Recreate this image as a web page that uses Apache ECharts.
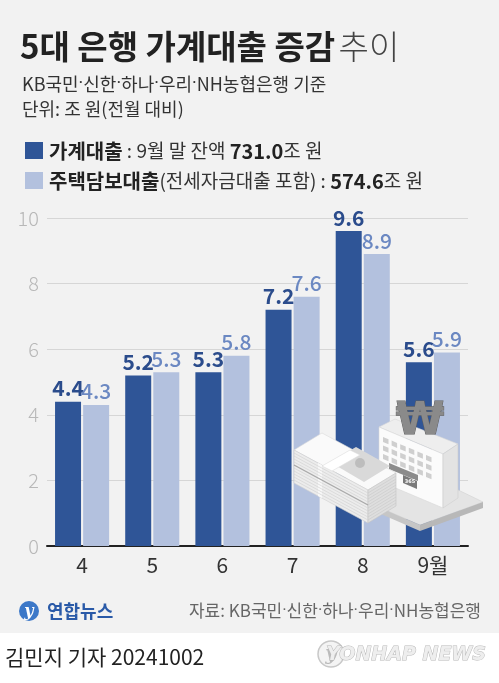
<!DOCTYPE html>
<html><head><meta charset="utf-8">
<script src="https://cdn.jsdelivr.net/npm/echarts@6/dist/echarts.min.js"></script>
<style>html,body{margin:0;padding:0;background:#fff}#c{width:499px;height:683px}</style>
</head><body><div id="c"></div>
<script>
var categories = ['4', '5', '6', '7', '8', '9월'];
var householdLoans = [4.4, 5.2, 5.3, 7.2, 9.6, 5.6];
var mortgageLoans = [4.3, 5.3, 5.8, 7.6, 8.9, 5.9];
var yTicks = [0, 2, 4, 6, 8, 10];

var FONT = '"Noto Sans CJK KR","Noto Sans",sans-serif';
var DARK = '#2f5597', LIGHT = '#b3c1de';
var chart = echarts.init(document.getElementById('c'), null, {renderer: 'canvas'});

// narrow middle dots (Latin font) inside Korean text
function dots(s, style) {
  return s.split('·').map(function (p) { return '{' + style + '|' + p + '}'; }).join('{d|·}');
}

function poly(points, fill, stroke) {
  return {type: 'polygon', shape: {points: points}, style: {fill: fill, stroke: stroke || null, lineWidth: 0.6}, z: 10, silent: true};
}
function line(x1, y1, x2, y2, c, w) {
  return {type: 'line', shape: {x1: x1, y1: y1, x2: x2, y2: y2}, style: {stroke: c, lineWidth: w || 0.8}, z: 10, silent: true};
}
var illus = [
  // platform
  poly([[330,486],[392,458],[483,502],[420,525]], '#e4e4e4', '#d2d2d2'),
  poly([[330,486],[420,525],[420,531],[330,492]], '#c6c6c6'),
  poly([[420,525],[483,502],[483,508],[420,531]], '#b8b8b8'),
  // building
  poly([[379,427],[395,419],[458,444],[443,454]], '#eeeeee', '#d8d8d8'),
  poly([[379,427],[443,454],[443,508],[379,481]], '#fbfbfb', '#d8d8d8'),
  poly([[443,454],[458,444],[458,498],[443,508]], '#e3e3e3', '#cfcfcf')
];
for (var r = 0; r < 3; r++) {
  for (var c = 0; c < 6; c++) {
    var x0 = 383 + c * 8.6, y0 = 437 + c * 3.6 + r * 8.5;
    illus.push(poly([[x0, y0], [x0 + 5.5, y0 + 2.3], [x0 + 5.5, y0 + 7.3], [x0, y0 + 5]], '#cfcfcf'));
  }
}
illus = illus.concat([
  poly([[389,463],[418,475],[418,481],[389,469]], '#8c8c8c'),
  poly([[403,475],[417,481],[417,489],[403,483]], '#7a7a7a'),
  {type: 'text', style: {x: 410, y: 482, text: '365', fill: '#fff', font: 'bold 5px "DejaVu Sans"', align: 'center', verticalAlign: 'middle'}, z: 11, silent: true},
  {type: 'text', style: {x: 420, y: 423, text: '₩', fill: '#8a8a8a', stroke: '#5e5e5e', lineWidth: 1, font: 'bold 44px "DejaVu Sans"', align: 'center', verticalAlign: 'middle'}, z: 11, silent: true},
  // money stack
  poly([[294,450],[322,433],[396,473],[368,490]], '#fafafa', '#dadada'),
  poly([[294,450],[368,490],[368,523],[294,483]], '#ececec', '#cfcfcf'),
  poly([[368,490],[396,473],[396,506],[368,523]], '#dedede', '#c4c4c4'),
  poly([[330,462],[356,447],[390,466],[364,482]], '#d9d9d9'),
  {type: 'circle', shape: {cx: 360, cy: 463, r: 5}, style: {fill: '#bdbdbd'}, z: 10, silent: true},
  poly([[322,466],[350,450],[360,455],[332,471]], '#ffffff', '#dddddd'),
  poly([[318,463],[322,465],[322,498],[318,496]], '#f8f8f8')
]);
for (var k = 1; k <= 10; k++) {
  var dy = k * 3;
  illus.push(line(294, 450 + dy, 368, 490 + dy, k === 5 ? '#a9a9a9' : '#d2d2d2', k === 5 ? 1.4 : 0.7));
  illus.push(line(368, 490 + dy, 396, 473 + dy, '#c8c8c8', 0.6));
}

var option = {
  backgroundColor: '#ffffff',
  textStyle: {fontFamily: FONT},
  animation: false,
  grid: {left: 47, right: 31, top: 218, bottom: 137, containLabel: false},
  xAxis: {
    type: 'category', data: categories,
    axisLine: {lineStyle: {color: '#222', width: 2}},
    axisTick: {show: false},
    axisLabel: {color: '#333', fontSize: 21, margin: 9, fontFamily: FONT}
  },
  yAxis: {
    type: 'value', min: yTicks[0], max: yTicks[yTicks.length - 1], interval: 2,
    axisLine: {show: false}, axisTick: {show: false},
    splitLine: {lineStyle: {color: '#d6d6d6', width: 1}},
    axisLabel: {color: '#b8b8b8', fontSize: 20, fontWeight: 300, margin: 8, fontFamily: FONT}
  },
  series: [
    {type: 'bar', name: '가계대출', data: householdLoans, barWidth: 26, barGap: '8%',
     itemStyle: {color: DARK},
     label: {show: true, position: 'top', distance: 3, color: '#2b4c8c', fontSize: 21, fontWeight: 'bold', fontFamily: FONT, formatter: function(p){return p.value.toFixed(1);}}},
    {type: 'bar', name: '주택담보대출', data: mortgageLoans, barWidth: 26,
     itemStyle: {color: LIGHT},
     label: {show: true, position: 'top', distance: 3, color: '#6b88c2', fontSize: 21, fontWeight: 500, fontFamily: FONT, formatter: function(p){return p.value.toFixed(1);}}}
  ],
  graphic: [
    {type: 'rect', shape: {x: 0, y: 0, width: 499, height: 633}, style: {fill: '#f2f2f2'}, z: -10, silent: true},
    {type: 'text', style: {x: 20, y: 46, verticalAlign: 'middle',
      text: '{b|5대 은행 가계대출 증감} {l|추이}',
      rich: {b: {fontSize: 33, fontWeight: 'bold', fill: '#222', fontFamily: FONT},
             l: {fontSize: 33, fontWeight: 300, fill: '#444', fontFamily: FONT}}}},
    {type: 'text', style: {x: 22, y: 84, verticalAlign: 'middle', text: dots('KB국민·신한·하나·우리·NH농협은행 기준', 'n'),
      rich: {n: {fontSize: 18, fill: '#333', fontFamily: FONT}, d: {fontSize: 18, fill: '#333', fontFamily: 'Roboto'}}}},
    {type: 'text', style: {x: 22, y: 109, verticalAlign: 'middle', text: '단위: 조 원(전월 대비)', fontSize: 18, fill: '#333', fontFamily: FONT}},
    {type: 'rect', shape: {x: 25, y: 142, width: 18, height: 17}, style: {fill: DARK}},
    {type: 'text', style: {x: 49, y: 151, verticalAlign: 'middle',
      text: '{b|가계대출}{n| : 9월 말 잔액 }{b|731.0}{n|조 원}',
      rich: {b: {fontSize: 20, fontWeight: 'bold', fill: '#222', fontFamily: FONT},
             n: {fontSize: 19, fill: '#333', fontFamily: FONT}}}},
    {type: 'rect', shape: {x: 25, y: 172, width: 18, height: 17}, style: {fill: LIGHT}},
    {type: 'text', style: {x: 49, y: 181, verticalAlign: 'middle',
      text: '{b|주택담보대출}{n|(전세자금대출 포함) : }{b|574.6}{n|조 원}',
      rich: {b: {fontSize: 20, fontWeight: 'bold', fill: '#222', fontFamily: FONT},
             n: {fontSize: 19, fill: '#333', fontFamily: FONT}}}},
    // footer logo
    {type: 'circle', shape: {cx: 29, cy: 611, r: 10}, style: {fill: '#3c78c8'}},
    {type: 'text', style: {x: 29, y: 612, text: 'y', align: 'center', verticalAlign: 'middle', fill: '#fff', font: 'italic bold 16px "DejaVu Serif"'}},
    {type: 'text', style: {x: 47, y: 611, verticalAlign: 'middle', text: '연합뉴스', fontSize: 18, fontWeight: 'bold', fill: '#2a5aa8', fontFamily: FONT}},
    {type: 'text', style: {x: 481, y: 611, align: 'right', verticalAlign: 'middle', text: dots('자료: KB국민·신한·하나·우리·NH농협은행', 'n'),
      rich: {n: {fontSize: 17, fill: '#666', fontFamily: FONT}, d: {fontSize: 17, fill: '#666', fontFamily: 'Roboto'}}}},
    {type: 'text', style: {x: 5, y: 657, verticalAlign: 'middle', text: '김민지 기자 20241002', fontSize: 21, fill: '#222', fontFamily: FONT}},
    {type: 'circle', shape: {cx: 331, cy: 654, r: 13}, style: {fill: '#f4f4f4', stroke: '#c8c8c8', lineWidth: 1.5}},
    {type: 'text', style: {x: 331, y: 655, text: 'y', align: 'center', verticalAlign: 'middle', fill: '#bbb', font: 'italic bold 20px "DejaVu Serif"'}},
    {type: 'text', style: {x: 486, y: 655, align: 'right', verticalAlign: 'middle', text: 'YONHAP NEWS', fill: '#eeeeee', stroke: '#b8b8b8', lineWidth: 1, font: 'italic bold 19px "DejaVu Sans"'}}
  ].concat(illus)
};
chart.setOption(option);
</script></body></html>
